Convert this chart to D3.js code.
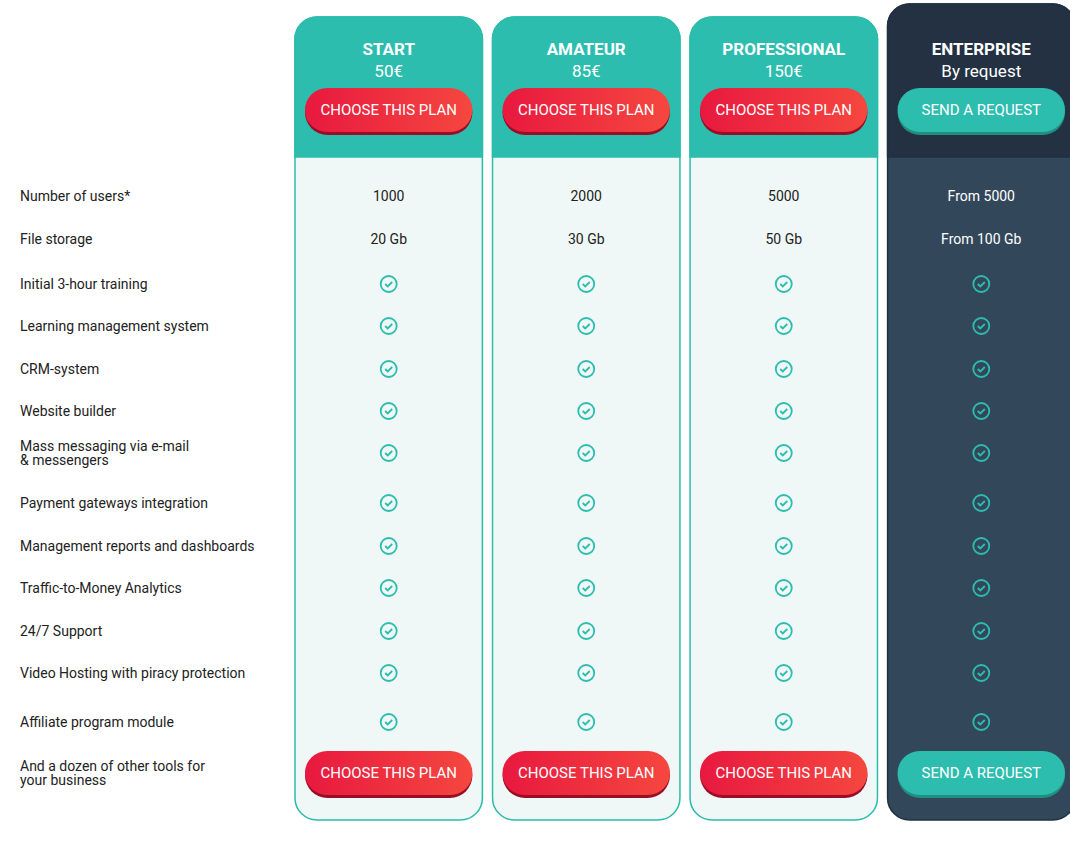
<!DOCTYPE html>
<html><head><meta charset="utf-8">
<script src="https://cdn.jsdelivr.net/npm/d3@7"></script>
<style>body{margin:0;background:#fff}svg{display:block;font-family:Roboto,sans-serif}</style>
</head><body><svg id="c" width="1070" height="847"></svg>
<script>
const plans = ["START","AMATEUR","PROFESSIONAL","ENTERPRISE"];
const prices = ["50€","85€","150€","By request"];
const buttons = ["CHOOSE THIS PLAN","CHOOSE THIS PLAN","CHOOSE THIS PLAN","SEND A REQUEST"];
const features = ["Number of users*","File storage","Initial 3-hour training","Learning management system","CRM-system","Website builder","Mass messaging via e-mail\n& messengers","Payment gateways integration","Management reports and dashboards","Traffic-to-Money Analytics","24/7 Support","Video Hosting with piracy protection","Affiliate program module","And a dozen of other tools for\nyour business"];
const rowY = [196,239,284,326,369,411,453,503,546,588,631,673,722,773];
const users = ["1000","2000","5000","From 5000"];
const storage = ["20 Gb","30 Gb","50 Gb","From 100 Gb"];

const svg = d3.select("#c");
const defs = svg.append("defs");
const g1 = defs.append("linearGradient").attr("id","red");
g1.append("stop").attr("offset","0").attr("stop-color","#e8193f");
g1.append("stop").attr("offset","1").attr("stop-color","#f5473f");
const x = d3.scaleBand().domain(plans).range([295,1075]).paddingInner(0.0513).paddingOuter(0);
const bw = x.bandwidth();
const y = d3.scaleLinear().domain([0,847]).range([0,847]);

plans.forEach((p,i)=>{
  const x0 = x(p), ent = i===3, top = ent?4:17, cx = x0+bw/2;
  svg.append("rect").attr("x",x0).attr("y",top).attr("width",bw).attr("height",820-top).attr("rx",22)
    .attr("fill",ent?"#33475b":"#eff8f6").attr("stroke",ent?"#1f3040":"#2dbcaa").attr("stroke-width",1.5);
  // header
  const hb = 157;
  svg.append("path").attr("d",`M${x0},${hb}V${top+22}a22,22 0 0 1 22,-22H${x0+bw-22}a22,22 0 0 1 22,22V${hb}Z`)
    .attr("fill",ent?"#233143":"#2dbdaf").attr("stroke",ent?"#1f3040":"#2dbcaa").attr("stroke-width",1.5);
  svg.append("text").attr("x",cx).attr("y",55).attr("text-anchor","middle").attr("fill","#fff").attr("font-size",17).attr("font-weight",700).text(p);
  svg.append("text").attr("x",cx).attr("y",77).attr("text-anchor","middle").attr("fill","#fff").attr("font-size",17).text(prices[i]);
  [110,773].forEach(by=>{
    svg.append("rect").attr("x",x0+10).attr("y",by-20).attr("width",bw-20).attr("height",45).attr("rx",22.5).attr("fill",ent?"#1f8f80":"#9b0d26");
    svg.append("rect").attr("x",x0+10).attr("y",by-22).attr("width",bw-20).attr("height",44).attr("rx",22).attr("fill",ent?"#2dbdaf":"url(#red)");
    svg.append("text").attr("x",cx).attr("y",by+5).attr("text-anchor","middle").attr("fill","#fff").attr("font-size",15).text(buttons[i]);
  });
  const tc = ent?"#fff":"#222";
  svg.append("text").attr("x",cx).attr("y",y(rowY[0])+5).attr("text-anchor","middle").attr("fill",tc).attr("font-size",14).text(users[i]);
  svg.append("text").attr("x",cx).attr("y",y(rowY[1])+5).attr("text-anchor","middle").attr("fill",tc).attr("font-size",14).text(storage[i]);
  rowY.slice(2,13).forEach(r=>{
    const gy = y(r);
    svg.append("circle").attr("cx",cx).attr("cy",gy).attr("r",8).attr("fill","none").attr("stroke","#2dbdaf").attr("stroke-width",1.8);
    svg.append("path").attr("d",`M${cx-3.5},${gy}l2.5,2.5l4.5,-4.5`).attr("fill","none").attr("stroke","#2dbdaf").attr("stroke-width",1.8);
  });
});
features.forEach((f,i)=>{
  const lines = f.split("\n");
  const t = svg.append("text").attr("x",20).attr("font-size",14).attr("fill","#222");
  const base = y(rowY[i]) + 5 - (lines.length-1)*7.5;
  lines.forEach((l,k)=>t.append("tspan").attr("x",20).attr("y",base+k*14).text(l));
});
</script></body></html>
